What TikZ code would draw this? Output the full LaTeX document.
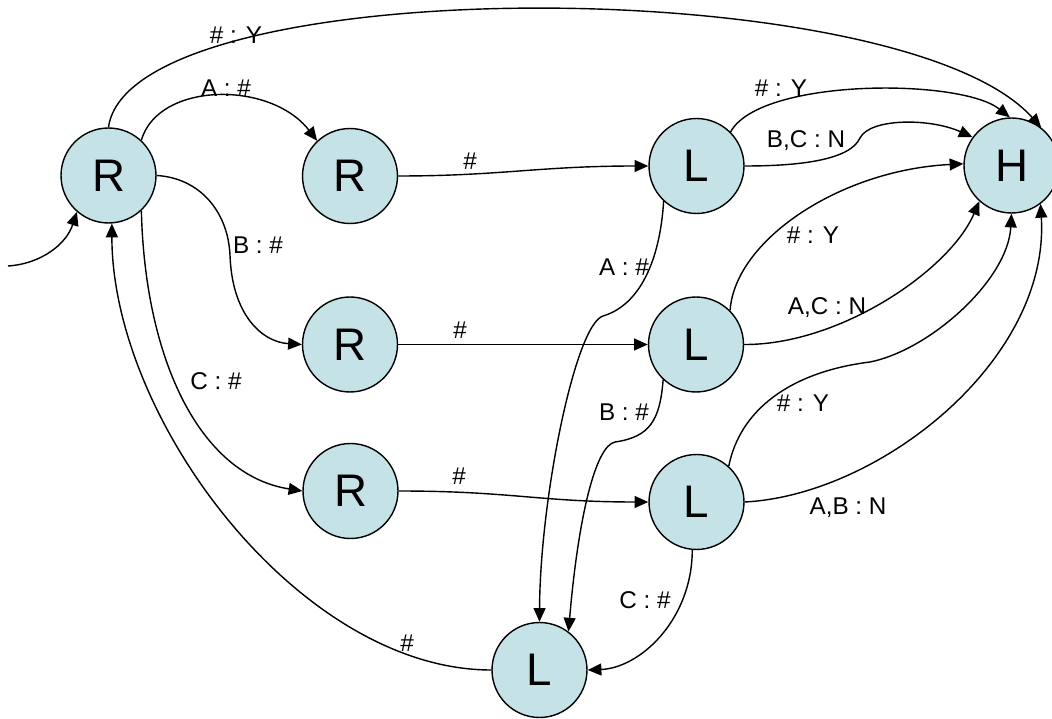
\documentclass[tikz,border=0pt]{standalone}
\usepackage{fontspec}
\setmainfont{Liberation Sans}
\usetikzlibrary{arrows.meta}
\definecolor{statefill}{RGB}{197,226,231}
\begin{document}
\begin{tikzpicture}[x=0.02cm,y=-0.02cm,
  state/.style={circle,draw,line width=0.8pt,fill=statefill,minimum size=1.9cm,
    inner sep=0pt,font=\fontsize{26}{26}\selectfont},
  arr/.style={line width=0.8pt,-{Triangle[length=7.8pt,width=6.8pt]}},
  lbl/.style={font=\fontsize{13.8}{15}\selectfont,inner sep=0pt}]
\useasboundingbox (0,0) rectangle (1052,719);

% states
\node[state] (R1) at (108.5,175.5) {R};
\node[state] (R2) at (350,176) {R};
\node[state] (R3) at (350,344.5) {R};
\node[state] (R4) at (350.5,491) {R};
\node[state] (L1) at (696.5,166) {L};
\node[state] (L2) at (696,344.5) {L};
\node[state] (L3) at (696.5,502) {L};
\node[state] (L4) at (539.5,670) {L};
\node[state] (H)  at (1011.5,165.5) {H};

% initial arrow
\coordinate (init) at (8,266);
\draw[arr] (init) .. controls (40,264) and (66,245) .. (R1.229);

% transitions out of the first R
\draw[arr] (R1.90) .. controls (130,-30) and (900,-30) .. (H.52);
\draw[arr] (R1.47) .. controls (158,82) and (270,80) .. (R2.133);
\draw[arr] (R1.0) .. controls (200,178) and (228,212) .. (230,255)
                  .. controls (232,315) and (262,342) .. (R3.180);
\draw[arr] (R1.-47) .. controls (145,360) and (200,475) .. (R4.180);

% return to the start
\draw[arr] (L4.180) .. controls (300,670) and (112,420) .. (R1.-86);

% R to L moves
\draw[arr] (R2.0) .. controls (500,176) and (540,166) .. (L1.180);
\draw[arr] (R3.0) -- (L2.180);
\draw[arr] (R4.0) .. controls (510,491) and (540,502) .. (L3.180);

% L to H
\draw[arr] (L1.45) .. controls (760,78) and (960,78) .. (H.92);
\draw[arr] (L1.0) .. controls (800,166) and (850,160) .. (860,138)
                  .. controls (870,118) and (930,118) .. (H.144);
\draw[arr] (L2.45) .. controls (735,240) and (840,170) .. (H.178);
\draw[arr] (L2.0) .. controls (840,345) and (950,270) .. (H.228);
\draw[arr] (L3.48) .. controls (740,410) and (790,372) .. (870,362)
                   .. controls (930,350) and (1008,280) .. (H.270);
\draw[arr] (L3.0) .. controls (880,495) and (1050,360) .. (H.307);

% L to the bottom L
\draw[arr] (L1.227) .. controls (660,260) and (640,305) .. (603,316)
                    .. controls (575,325) and (540,500) .. (L4.90);
\draw[arr] (L2.227) .. controls (660,420) and (650,437) .. (615,442)
                    .. controls (595,446) and (578,520) .. (L4.53);
\draw[arr] (L3.265) .. controls (692,620) and (640,668) .. (L4.0);

% transition labels
\node[lbl] (a1) at (236,35) {\# : Y};
\node[lbl] (a2) at (226,88) {A : \#};
\node[lbl] (a3) at (258,245) {B : \#};
\node[lbl] (a4) at (216,381) {C : \#};
\node[lbl] (b1) at (470,161) {\#};
\node[lbl] (b2) at (460,330) {\#};
\node[lbl] (b3) at (459,476) {\#};
\node[lbl] (b4) at (407,643) {\#};
\node[lbl] (c1) at (781,88) {\# : Y};
\node[lbl] (c2) at (806,141) {B,C : N};
\node[lbl] (c3) at (813,235) {\# : Y};
\node[lbl] (c4) at (827,308) {A,C : N};
\node[lbl] (c5) at (803,403) {\# : Y};
\node[lbl] (c6) at (848,508) {A,B : N};
\node[lbl] (d1) at (624,267) {A : \#};
\node[lbl] (d2) at (624,412) {B : \#};
\node[lbl] (d3) at (645,600) {C : \#};
\end{tikzpicture}
\end{document}
